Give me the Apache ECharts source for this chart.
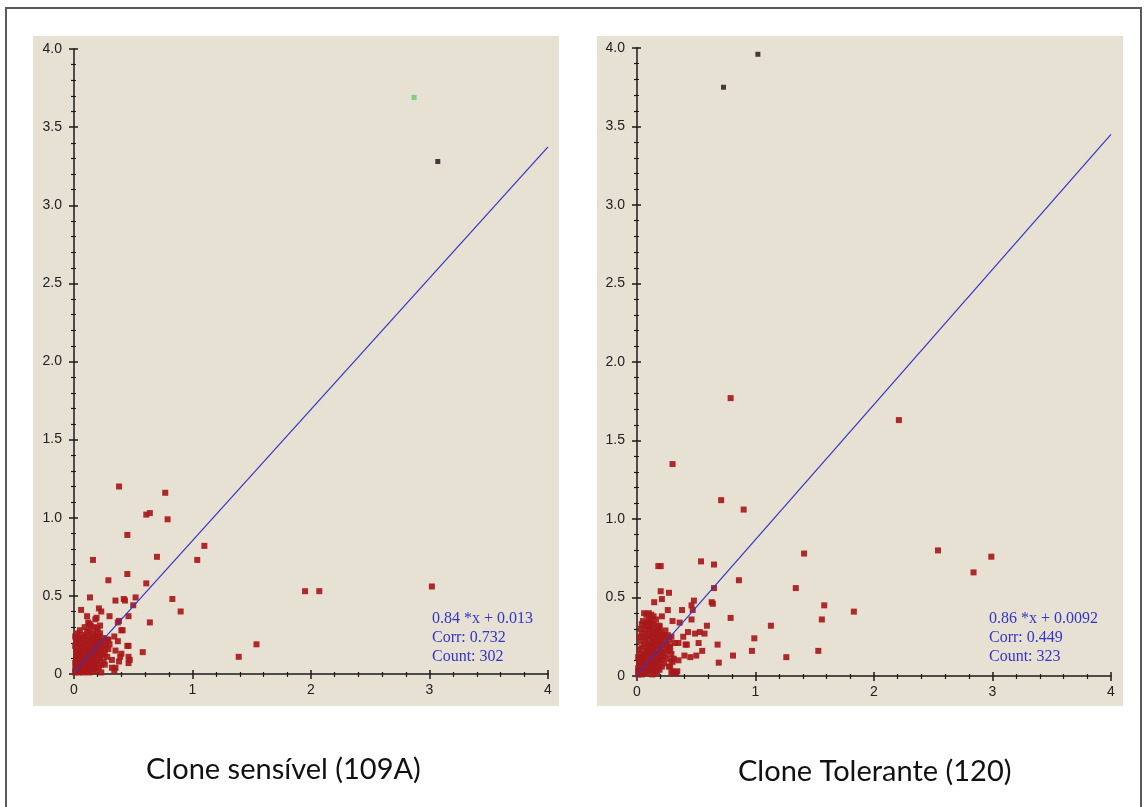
<!DOCTYPE html>
<html>
<head>
<meta charset="utf-8">
<script src="https://cdn.jsdelivr.net/npm/echarts@6/dist/echarts.min.js"></script>
<style>
  html, body { margin: 0; padding: 0; background: #ffffff; }
  #chart { width: 1144px; height: 807px; }
</style>
</head>
<body>
<div id="chart"></div>
<script>
// ---- Clone sensível (109A) ----
const sensivelCluster = [
  [0.01,0.01],[0.02,0.03],[0.03,0.02],[0.02,0.05],[0.04,0.04],[0.05,0.03],[0.03,0.07],[0.06,0.05],
  [0.05,0.08],[0.07,0.06],[0.08,0.04],[0.04,0.10],[0.06,0.09],[0.08,0.08],[0.09,0.07],[0.10,0.05],
  [0.07,0.11],[0.09,0.10],[0.11,0.09],[0.12,0.07],[0.10,0.12],[0.12,0.11],[0.13,0.10],[0.14,0.08],
  [0.11,0.14],[0.13,0.13],[0.15,0.12],[0.16,0.10],[0.12,0.16],[0.14,0.15],[0.16,0.14],[0.17,0.12],
  [0.15,0.17],[0.17,0.16],[0.18,0.14],[0.19,0.12],[0.16,0.19],[0.18,0.18],[0.20,0.16],[0.21,0.14],
  [0.19,0.20],[0.21,0.19],[0.22,0.17],[0.23,0.15],[0.02,0.12],[0.03,0.15],[0.01,0.18],[0.04,0.17],
  [0.02,0.20],[0.05,0.14],[0.06,0.18],[0.07,0.15],[0.08,0.19],[0.09,0.16],[0.10,0.20],[0.11,0.18],
  [0.06,0.22],[0.08,0.23],[0.10,0.24],[0.12,0.21],[0.13,0.24],[0.14,0.20],[0.15,0.22],[0.17,0.21],
  [0.18,0.24],[0.20,0.22],[0.11,0.27],[0.13,0.28],[0.16,0.26],[0.19,0.27],[0.09,0.30],[0.14,0.31],
  [0.17,0.30],[0.12,0.33],[0.03,0.26],[0.05,0.28],[0.07,0.25],[0.02,0.09],[0.01,0.07],[0.03,0.12],
  [0.04,0.01],[0.06,0.02],[0.08,0.01],[0.10,0.02],[0.12,0.03],[0.14,0.04],[0.16,0.05],[0.18,0.06],
  [0.20,0.08],[0.22,0.10],[0.24,0.12],[0.13,0.01],[0.15,0.02],[0.17,0.03],[0.19,0.02],[0.21,0.04],
  [0.23,0.06],[0.25,0.08],[0.26,0.13],[0.24,0.18],[0.22,0.21],[0.25,0.23],[0.27,0.19],[0.09,0.03],
  [0.11,0.05],[0.07,0.08],[0.05,0.11],[0.03,0.04],[0.01,0.03],[0.02,0.14],[0.04,0.22],[0.06,0.12],
  [0.08,0.13],[0.10,0.15],[0.12,0.13],[0.14,0.12],[0.16,0.08],[0.18,0.09],[0.20,0.11],[0.19,0.15],
  [0.17,0.18],[0.15,0.07],[0.13,0.06],[0.11,0.11],[0.09,0.13],[0.07,0.18],[0.05,0.20],[0.03,0.23],
  [0.01,0.24],[0.14,0.17],[0.16,0.23],[0.18,0.20],[0.21,0.24],[0.23,0.20],[0.26,0.16],[0.28,0.11],
  [0.29,0.16],[0.28,0.22],[0.20,0.29],[0.22,0.26]
];
const sensivelSpread = [
  [0.38,1.20],[0.77,1.16],[0.61,1.02],[0.64,1.03],[0.79,0.99],[0.45,0.89],[1.10,0.82],
  [0.16,0.73],[1.04,0.73],[0.70,0.75],[0.45,0.64],[0.29,0.60],[0.61,0.58],[1.95,0.53],
  [2.07,0.53],[0.135,0.49],[0.35,0.47],[0.42,0.48],[0.43,0.47],[0.52,0.49],[0.50,0.44],
  [0.83,0.48],[0.90,0.40],[0.06,0.41],[0.21,0.42],[0.23,0.40],[0.18,0.35],[0.19,0.36],
  [0.11,0.37],[0.30,0.37],[0.46,0.37],[0.37,0.33],[0.38,0.34],[0.64,0.33],[0.22,0.31],
  [0.13,0.32],[0.40,0.28],[0.41,0.28],[0.30,0.19],[0.37,0.21],[0.29,0.22],[0.34,0.24],
  [0.46,0.18],[0.45,0.18],[0.58,0.14],[0.46,0.11],[0.46,0.07],[0.40,0.13],[0.38,0.08],
  [0.32,0.04],[0.34,0.02],[0.23,0.01],[0.26,0.06],[0.35,0.15],[0.32,0.09],[0.39,0.11],
  [0.35,0.04],[0.47,0.09],[1.39,0.11],[1.54,0.19],[3.02,0.56]
];
const sensivelFar = [[3.07,3.28]];
const sensivelMarked = [[2.87,3.69]];
const sensivelFit = { slope: 0.84, intercept: 0.013, corr: '0.732', count: '302' };

// ---- Clone Tolerante (120) ----
const toleranteCluster = [
  [0.01,0.01],[0.02,0.02],[0.03,0.04],[0.02,0.06],[0.04,0.03],[0.05,0.05],[0.03,0.08],[0.06,0.07],
  [0.04,0.10],[0.07,0.04],[0.08,0.09],[0.05,0.12],[0.06,0.14],[0.09,0.06],[0.10,0.11],[0.07,0.13],
  [0.08,0.16],[0.11,0.08],[0.12,0.13],[0.09,0.18],[0.10,0.15],[0.13,0.10],[0.14,0.16],[0.11,0.20],
  [0.12,0.18],[0.15,0.13],[0.16,0.19],[0.13,0.22],[0.14,0.24],[0.17,0.15],[0.18,0.21],[0.15,0.26],
  [0.16,0.23],[0.19,0.17],[0.20,0.24],[0.17,0.27],[0.18,0.29],[0.21,0.20],[0.22,0.26],[0.19,0.31],
  [0.20,0.28],[0.23,0.22],[0.24,0.29],[0.06,0.20],[0.04,0.18],[0.03,0.22],[0.05,0.25],[0.07,0.23],
  [0.08,0.27],[0.09,0.25],[0.10,0.29],[0.06,0.30],[0.04,0.27],[0.03,0.14],[0.02,0.17],[0.07,0.32],
  [0.09,0.34],[0.11,0.31],[0.12,0.35],[0.13,0.28],[0.14,0.33],[0.16,0.36],[0.06,0.40],[0.08,0.39],
  [0.10,0.40],[0.12,0.39],[0.14,0.38],[0.05,0.35],[0.03,0.30],[0.02,0.11],[0.01,0.05],[0.02,0.09],
  [0.04,0.01],[0.06,0.02],[0.08,0.02],[0.10,0.03],[0.12,0.04],[0.14,0.05],[0.16,0.06],[0.18,0.08],
  [0.20,0.10],[0.22,0.12],[0.24,0.14],[0.13,0.01],[0.15,0.03],[0.17,0.02],[0.19,0.04],[0.21,0.06],
  [0.23,0.08],[0.25,0.11],[0.26,0.17],[0.25,0.20],[0.22,0.17],[0.21,0.15],[0.19,0.12],[0.17,0.10],
  [0.15,0.09],[0.13,0.07],[0.11,0.05],[0.09,0.09],[0.07,0.10],[0.05,0.08],[0.03,0.06],[0.01,0.03],
  [0.01,0.12],[0.02,0.25],[0.04,0.33],[0.08,0.12],[0.10,0.07],[0.12,0.10],[0.14,0.12],[0.16,0.14],
  [0.18,0.13],[0.20,0.15],[0.11,0.15],[0.09,0.21],[0.13,0.19],[0.15,0.21],[0.17,0.19],[0.19,0.23],
  [0.21,0.26],[0.23,0.25],[0.11,0.25],[0.13,0.26],[0.15,0.30],[0.17,0.32],[0.18,0.25],[0.10,0.36],
  [0.08,0.33],[0.27,0.23],[0.28,0.19],[0.26,0.26],[0.29,0.14],[0.28,0.06],[0.30,0.03],[0.32,0.02],
  [0.34,0.03],[0.29,0.10]
];
const toleranteSpread = [
  [0.71,1.12],[0.90,1.06],[1.41,0.78],[0.54,0.73],[0.65,0.71],[0.18,0.70],[0.20,0.70],
  [0.86,0.61],[1.34,0.56],[0.65,0.56],[0.20,0.54],[0.27,0.53],[0.21,0.49],[0.145,0.47],
  [0.48,0.48],[0.46,0.45],[0.63,0.47],[0.64,0.46],[1.58,0.45],[1.83,0.41],[0.38,0.42],
  [0.47,0.42],[0.26,0.42],[0.21,0.38],[0.30,0.35],[1.56,0.36],[0.79,0.37],[0.46,0.36],
  [0.36,0.34],[0.59,0.32],[1.13,0.32],[0.53,0.28],[0.57,0.27],[0.49,0.27],[0.43,0.28],
  [0.99,0.24],[0.39,0.25],[0.29,0.25],[0.32,0.21],[0.35,0.21],[0.41,0.20],[0.42,0.20],
  [0.52,0.21],[0.68,0.20],[0.27,0.18],[0.97,0.16],[1.53,0.16],[0.55,0.16],[0.50,0.13],
  [0.40,0.13],[0.81,0.13],[1.26,0.12],[0.69,0.085],[0.30,0.09],[0.31,0.11],[0.35,0.10],
  [0.45,0.12],[0.29,0.02],[0.31,0.02],[0.33,0.02],[0.27,0.06],[0.28,0.16],[0.19,0.32],
  [0.11,0.32],[0.30,1.35],[0.79,1.77],[2.21,1.63],[2.54,0.80],[2.84,0.66],[2.99,0.76]
];
const toleranteFar = [[0.73,3.75],[1.02,3.96]];
const toleranteFit = { slope: 0.86, intercept: 0.0092, corr: '0.449', count: '323' };

const panelTitles = ['Clone sensível (109A)', 'Clone Tolerante (120)'];
const xTicks = [0, 1, 2, 3, 4];
const yTicks = [0, 0.5, 1.0, 1.5, 2.0, 2.5, 3.0, 3.5, 4.0];

// ---- styling / layout ----
const AXIS_COLOR = '#1a1a1a';
const DOT_COLOR = '#a8191b';
const FIT_COLOR = '#3434c8';
const PANEL_BG = '#e7e1d3';
const TICK_FONT = 'Liberation Sans';

const grids = [
  { left: 74, right: 596, top: 49, bottom: 133 },
  { left: 637, right: 33, top: 48, bottom: 131 }
];

function yLabel(v) { return v === 0 ? '0' : v.toFixed(1); }

function xAxesFor(gi) {
  const base = {
    type: 'value', gridIndex: gi, min: xTicks[0], max: xTicks[xTicks.length - 1],
    interval: 1, position: 'bottom', splitLine: { show: false }
  };
  return [
    Object.assign({}, base, {
      axisLine: { show: true, onZero: false, lineStyle: { color: AXIS_COLOR, width: 1.5 } },
      axisTick: { show: true, inside: false, length: 5, lineStyle: { color: AXIS_COLOR, width: 1.5 } },
      minorTick: { show: true, splitNumber: 5, length: 3, lineStyle: { color: AXIS_COLOR, width: 1.2 } },
      axisLabel: { show: true, margin: 9, fontSize: 14, color: '#222',
                   fontFamily: TICK_FONT, formatter: v => String(v) }
    }),
    Object.assign({}, base, {
      axisLine: { show: false, onZero: false },
      axisTick: { show: true, inside: true, length: 4, lineStyle: { color: AXIS_COLOR, width: 1.5 } },
      minorTick: { show: true, splitNumber: 5, length: 2, lineStyle: { color: AXIS_COLOR, width: 1.2 } },
      axisLabel: { show: false }
    })
  ];
}

function yAxesFor(gi) {
  const base = {
    type: 'value', gridIndex: gi, min: yTicks[0], max: yTicks[yTicks.length - 1],
    interval: 0.5, position: 'left', splitLine: { show: false }
  };
  return [
    Object.assign({}, base, {
      axisLine: { show: true, onZero: false, lineStyle: { color: AXIS_COLOR, width: 1.5 } },
      axisTick: { show: true, inside: false, length: 5, lineStyle: { color: AXIS_COLOR, width: 1.5 } },
      minorTick: { show: true, splitNumber: 5, length: 3, lineStyle: { color: AXIS_COLOR, width: 1.2 } },
      axisLabel: { show: true, margin: 12, fontSize: 14, color: '#222',
                   fontFamily: TICK_FONT, formatter: yLabel }
    }),
    Object.assign({}, base, {
      axisLine: { show: false, onZero: false },
      axisTick: { show: true, inside: true, length: 4, lineStyle: { color: AXIS_COLOR, width: 1.5 } },
      minorTick: { show: true, splitNumber: 5, length: 2, lineStyle: { color: AXIS_COLOR, width: 1.2 } },
      axisLabel: { show: false }
    })
  ];
}

function dots(data, axisIdx, color, size) {
  return {
    type: 'scatter', xAxisIndex: axisIdx, yAxisIndex: axisIdx, data: data,
    symbol: 'rect', symbolSize: size, silent: true,
    itemStyle: { color: color, opacity: 0.92 }
  };
}

function fitLine(fit, axisIdx) {
  const x0 = xTicks[0], x1 = xTicks[xTicks.length - 1];
  return {
    type: 'line', xAxisIndex: axisIdx, yAxisIndex: axisIdx, symbol: 'none', silent: true,
    data: [[x0, fit.intercept + fit.slope * x0], [x1, fit.intercept + fit.slope * x1]],
    lineStyle: { color: FIT_COLOR, width: 1.2 }, z: 3
  };
}

function fitText(fit, x, y) {
  const lines = [fit.slope + ' *x + ' + fit.intercept, 'Corr: ' + fit.corr, 'Count: ' + fit.count];
  return lines.map((t, i) => ({
    type: 'text', left: x, top: y + i * 19, z: 10, silent: true,
    style: { text: t, fill: FIT_COLOR, font: '16px "Liberation Serif"' }
  }));
}

const chart = echarts.init(document.getElementById('chart'), null, { renderer: 'canvas' });

chart.setOption({
  animation: false,
  backgroundColor: '#ffffff',
  grid: grids,
  xAxis: [...xAxesFor(0), ...xAxesFor(1)],
  yAxis: [...yAxesFor(0), ...yAxesFor(1)],
  series: [
    dots(sensivelCluster, 0, DOT_COLOR, 6),
    dots(sensivelSpread, 0, DOT_COLOR, 6),
    dots(sensivelFar, 0, '#3a2a2a', 5),
    dots(sensivelMarked, 0, '#6fd36a', 5),
    fitLine(sensivelFit, 0),
    dots(toleranteCluster, 2, DOT_COLOR, 6),
    dots(toleranteSpread, 2, DOT_COLOR, 6),
    dots(toleranteFar, 2, '#3a2a2a', 5),
    fitLine(toleranteFit, 2)
  ],
  graphic: [
    { type: 'rect', z: -20, silent: true,
      shape: { x: 6, y: 8, width: 1135, height: 820 },
      style: { fill: '#ffffff', stroke: '#5a5a5a', lineWidth: 2 } },
    { type: 'rect', z: -10, silent: true,
      shape: { x: 33, y: 36, width: 526, height: 670 }, style: { fill: PANEL_BG } },
    { type: 'rect', z: -10, silent: true,
      shape: { x: 597, y: 36, width: 526, height: 670 }, style: { fill: PANEL_BG } },
    ...fitText(sensivelFit, 432, 611),
    ...fitText(toleranteFit, 989, 611),
    { type: 'text', left: 146, top: 755, z: 10, silent: true,
      style: { text: panelTitles[0], fill: '#111', font: '29px Lato' } },
    { type: 'text', left: 738, top: 757, z: 10, silent: true,
      style: { text: panelTitles[1], fill: '#111', font: '29px Lato' } }
  ]
});
</script>
</body>
</html>
